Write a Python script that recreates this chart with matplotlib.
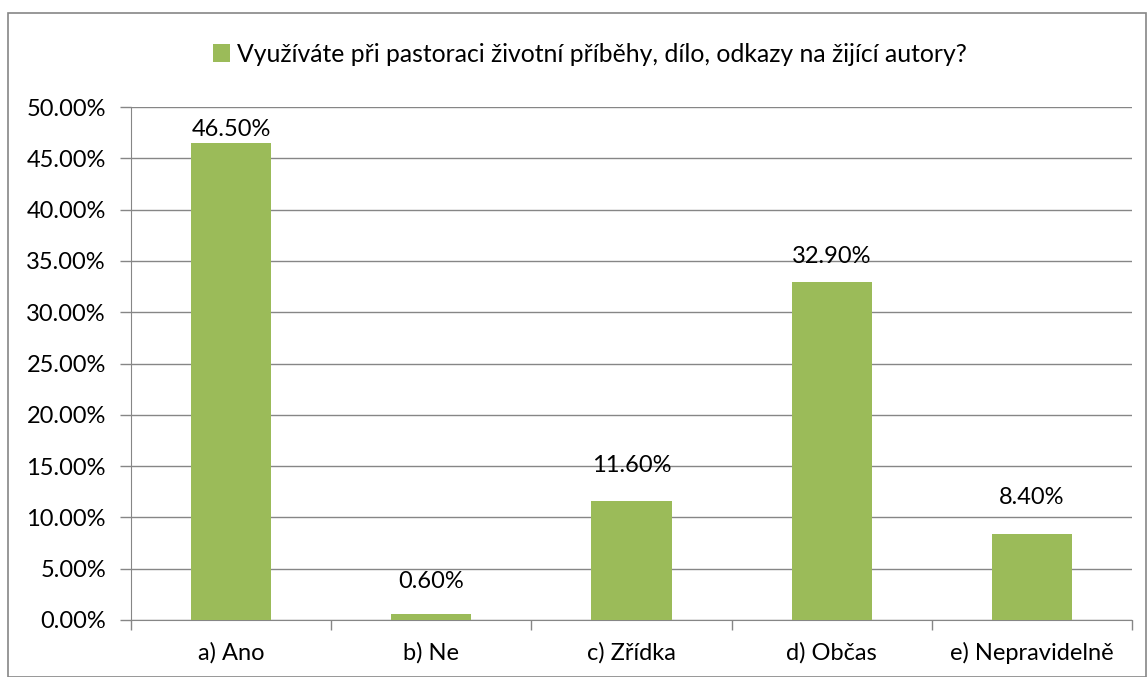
import matplotlib
matplotlib.use('Agg')
import matplotlib.pyplot as plt
from matplotlib.ticker import FuncFormatter
from matplotlib.patches import Rectangle

categories = ['a) Ano', 'b) Ne', 'c) Zřídka', 'd) Občas', 'e) Nepravidelně']
values = [46.5, 0.6, 11.6, 32.9, 8.4]
series_name = 'Využíváte při pastoraci životní příběhy, dílo, odkazy na žijící autory?'

# label centre offset above bar top, pixels (labels sit as in the original)
label_offsets = [13, 32, 35, 26, 36]

green = '#9BBB59'
grey = '#868686'
plt.rcParams['font.family'] = ['Lato', 'DejaVu Sans']
fs = 17

fig = plt.figure(figsize=(11.48, 6.77), dpi=100)
ax = fig.add_axes([131 / 1148, 1 - 620 / 677, (1132 - 131) / 1148, (620 - 107) / 677])

# chart border
fig.patches.append(Rectangle((8 / 1148, 0), (1146 - 8) / 1148, (677 - 13) / 677,
                             transform=fig.transFigure, fill=False,
                             edgecolor=grey, linewidth=1.2))

x = range(len(categories))
bars = ax.bar(x, values, width=0.4, color=green, label=series_name, zorder=3)
for xi, v, off in zip(x, values, label_offsets):
    ax.annotate('%.2f%%' % v, (xi, v), xytext=(0, off * 0.72), textcoords='offset points',
                ha='center', va='center', fontsize=fs)

ax.set_xlim(-0.5, len(categories) - 0.5)
ax.set_ylim(0, 50)
ax.set_yticks([i * 5 for i in range(11)])
ax.yaxis.set_major_formatter(FuncFormatter(lambda v, p: '%.2f%%' % v))
ax.yaxis.grid(True, color=grey, linewidth=1.0, zorder=0)
ax.set_xticks([i - 0.5 for i in range(len(categories) + 1)], minor=False)
ax.set_xticklabels([])
ax.set_xticks(list(x), minor=True)
ax.set_xticklabels(categories, minor=True, fontsize=fs)
ax.tick_params(axis='x', which='minor', length=0, pad=16)
ax.tick_params(axis='x', which='major', length=7, color=grey, width=1.0)
ax.tick_params(axis='y', length=8, color=grey, width=1.0, pad=10, labelsize=fs)

for s in ['top', 'right']:
    ax.spines[s].set_visible(False)
ax.spines['left'].set_color(grey)
ax.spines['bottom'].set_color(grey)

fig.legend(handles=[bars], labels=[series_name], loc='center',
           bbox_to_anchor=(590 / 1148, 1 - 54 / 677), frameon=False,
           handlelength=0.7, handleheight=0.7, handletextpad=0.3, fontsize=17.8)

fig.savefig('out.png', dpi=100)
